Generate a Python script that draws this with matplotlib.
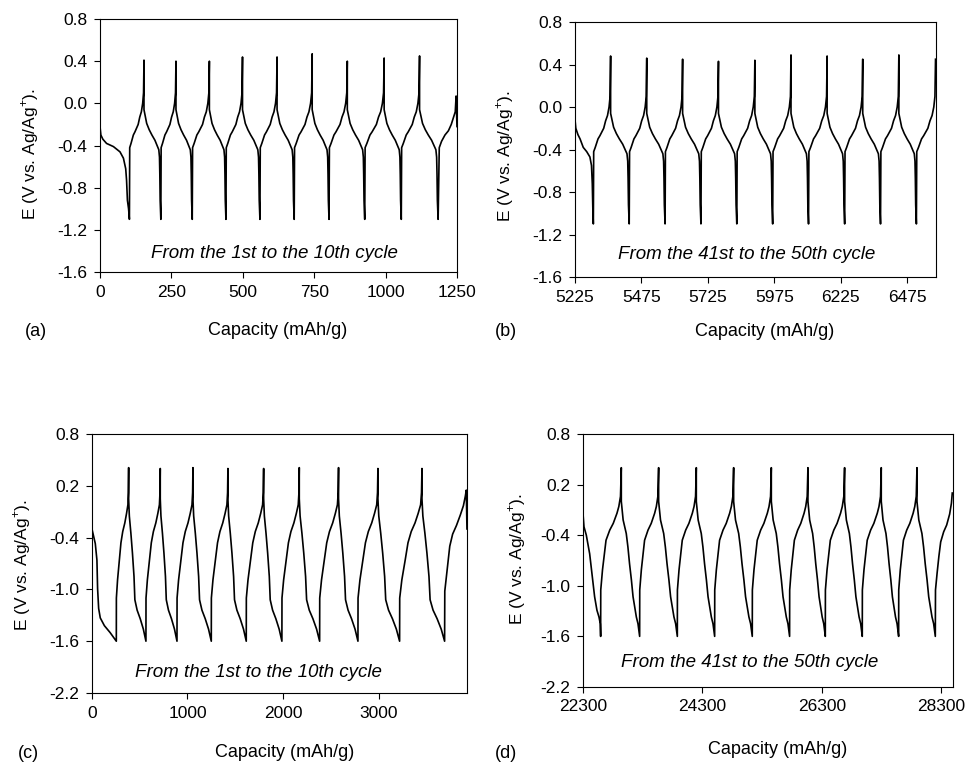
import matplotlib
matplotlib.use("Agg")
import matplotlib.pyplot as plt

plt.rcParams['font.family'] = ['Liberation Sans', 'DejaVu Sans']
plt.rcParams['mathtext.fontset'] = 'custom'
plt.rcParams['mathtext.rm'] = 'Liberation Sans'
plt.rcParams['axes.unicode_minus'] = False

# --- shapes of one half cycle (fraction of the step, potential)
ab_chg_frac = [0, 0.02, 0.11, 0.27, 0.38, 0.6, 0.71, 0.82, 0.91, 0.97]
ab_chg_E = [-1.1, -0.42, -0.38, -0.3, -0.27, -0.2, -0.13, -0.08, 0.0, 0.1]
ab_dis_frac = [0, 0.16, 0.31, 0.47, 0.65, 0.78, 0.88, 0.92, 0.94, 0.96, 1.0]
ab_dis_E = [-0.06, -0.19, -0.25, -0.3, -0.35, -0.4, -0.44, -0.51, -0.67, -0.92, -1.1]

c_chg_frac = [0, 0.005, 0.1, 0.25, 0.375, 0.52, 0.69, 0.83, 0.94, 0.98]
c_chg_E = [-1.6, -1.1, -0.89, -0.66, -0.46, -0.33, -0.23, -0.12, -0.02, 0.12]
c_dis_frac = [0, 0.04, 0.13, 0.22, 0.31, 0.36, 0.49, 0.67, 0.85, 1.0]
c_dis_E = [0.05, -0.15, -0.35, -0.58, -0.85, -1.12, -1.24, -1.34, -1.46, -1.6]

d_chg_frac = [0, 0.005, 0.09, 0.18, 0.26, 0.44, 0.61, 0.79, 0.88, 0.96]
d_chg_E = [-1.6, -1.05, -0.81, -0.62, -0.46, -0.34, -0.26, -0.14, -0.06, 0.06]
d_dis_frac = [0, 0.1, 0.27, 0.36, 0.45, 0.55, 0.64, 0.73, 0.82, 0.91, 1.0]
d_dis_E = [0.0, -0.22, -0.38, -0.54, -0.74, -0.93, -1.13, -1.25, -1.37, -1.45, -1.6]

# --- (a) 1st to 10th cycle, -1.1 V cut-off
a_first_cap = [0, 3, 10, 23, 47, 70, 82, 90, 93, 96, 100, 103]
a_first_E = [-0.22, -0.3, -0.34, -0.38, -0.41, -0.46, -0.52, -0.62, -0.73, -0.92, -1.0, -1.1]
a_min_cap = [103, 213, 323, 441, 560, 680, 802, 927, 1055, 1184]
a_peak_cap = [154, 266, 383, 499, 620, 743, 866, 995, 1119]
a_peak_E = [0.41, 0.40, 0.40, 0.44, 0.44, 0.47, 0.40, 0.43, 0.45]
a_end_cap = [1184, 1188, 1196, 1208, 1220, 1230, 1238, 1244, 1247, 1249, 1250]
a_end_E = [-1.1, -0.42, -0.36, -0.3, -0.26, -0.2, -0.13, -0.08, 0.07, -0.15, -0.22]

# --- (b) 41st to 50th cycle, -1.1 V cut-off
b_first_cap = [5225, 5228, 5236, 5244, 5256, 5269, 5281, 5287, 5290, 5292, 5294]
b_first_E = [-0.12, -0.2, -0.26, -0.3, -0.38, -0.42, -0.47, -0.55, -0.72, -0.95, -1.1]
b_min_cap = [5294, 5429, 5564, 5699, 5834, 5969, 6104, 6240, 6375, 6510]
b_peak_cap = [5359, 5495, 5630, 5765, 5902, 6038, 6174, 6308, 6444, 6582]
b_peak_E = [0.48, 0.46, 0.45, 0.43, 0.44, 0.49, 0.48, 0.45, 0.49, 0.45]
b_end_cap = []
b_end_E = []

# --- (c) 1st to 10th cycle, -1.6 V cut-off
c_first_cap = [0, 10, 35, 52, 59, 70, 87, 130, 190, 255]
c_first_E = [-0.3, -0.35, -0.47, -0.66, -0.99, -1.22, -1.33, -1.42, -1.5, -1.6]
c_min_cap = [255, 565, 890, 1249, 1615, 1988, 2383, 2784, 3220, 3691]
c_peak_cap = [384, 715, 1057, 1423, 1797, 2170, 2581, 2993, 3454]
c_peak_E = [0.41, 0.40, 0.41, 0.40, 0.40, 0.41, 0.41, 0.40, 0.40]
c_end_cap = [3691, 3693, 3720, 3745, 3775, 3815, 3855, 3888, 3908, 3918, 3925]
c_end_E = [-1.6, -1.02, -0.75, -0.5, -0.36, -0.26, -0.14, -0.03, 0.08, 0.15, -0.3]

# --- (d) 41st to 50th cycle, -1.6 V cut-off
d_first_cap = [22300, 22317, 22356, 22412, 22456, 22495, 22534, 22568, 22590, 22596]
d_first_E = [-0.14, -0.3, -0.4, -0.62, -0.89, -1.13, -1.29, -1.37, -1.45, -1.6]
d_min_cap = [22596, 23249, 23880, 24505, 25135, 25760, 26358, 26977, 27586, 28200]
d_peak_cap = [22942, 23567, 24198, 24823, 25454, 26067, 26681, 27295, 27893]
d_peak_E = [0.40, 0.40, 0.40, 0.40, 0.40, 0.40, 0.40, 0.40, 0.40]
d_end_cap = [28200, 28203, 28230, 28260, 28290, 28340, 28390, 28440, 28470, 28484]
d_end_E = [-1.6, -1.05, -0.85, -0.65, -0.48, -0.36, -0.28, -0.15, -0.02, 0.1]


def build(first_cap, first_E, mins, peaks, tops, chg_f, chg_E, dis_f, dis_E, end_cap, end_E):
    cap = list(first_cap)
    E = list(first_E)
    for i, m in enumerate(mins):
        if i >= len(peaks):
            break
        p = peaks[i]
        cap += [m + f * (p - m) for f in chg_f]
        E += chg_E
        cap.append(p)
        E.append(tops[i])
        if i + 1 < len(mins):
            n = mins[i + 1]
            cap += [p + f * (n - p) for f in dis_f]
            E += dis_E
    cap += end_cap
    E += end_E
    return cap, E


panels = [
    dict(rect=[0.1031, 0.6444, 0.368, 0.3307], label='(a)',
         curve=build(a_first_cap, a_first_E, a_min_cap, a_peak_cap, a_peak_E,
                     ab_chg_frac, ab_chg_E, ab_dis_frac, ab_dis_E, a_end_cap, a_end_E),
         xlim=(0, 1250), xticks=[0, 250, 500, 750, 1000, 1250],
         ylim=(-1.6, 0.8), yticks=[-1.6, -1.2, -0.8, -0.4, 0.0, 0.4, 0.8],
         note='From the 1st to the 10th cycle', note_xy=(0.49, 0.075),
         xlab_xy=(0.4986, -0.233), ylab_xy=(-0.196, 0.466), tag_xy=(36, 331)),
    dict(rect=[0.5928, 0.6379, 0.3722, 0.3333], label='(b)',
         curve=build(b_first_cap, b_first_E, b_min_cap, b_peak_cap, b_peak_E,
                     ab_chg_frac, ab_chg_E, ab_dis_frac, ab_dis_E, b_end_cap, b_end_E),
         xlim=(5225, 6584), xticks=[5225, 5475, 5725, 5975, 6225, 6475],
         ylim=(-1.6, 0.8), yticks=[-1.6, -1.2, -0.8, -0.4, 0.0, 0.4, 0.8],
         note='From the 41st to the 50th cycle', note_xy=(0.476, 0.09),
         xlab_xy=(0.526, -0.212), ylab_xy=(-0.194, 0.475), tag_xy=(506, 331)),
    dict(rect=[0.0948, 0.0941, 0.3866, 0.3386], label='(c)',
         curve=build(c_first_cap, c_first_E, c_min_cap, c_peak_cap, c_peak_E,
                     c_chg_frac, c_chg_E, c_dis_frac, c_dis_E, c_end_cap, c_end_E),
         xlim=(0, 3925), xticks=[0, 1000, 2000, 3000],
         ylim=(-2.2, 0.8), yticks=[-2.2, -1.6, -1.0, -0.4, 0.2, 0.8],
         note='From the 1st to the 10th cycle', note_xy=(0.443, 0.081),
         xlab_xy=(0.515, -0.228), ylab_xy=(-0.187, 0.494), tag_xy=(28, 753)),
    dict(rect=[0.6010, 0.1020, 0.3814, 0.3307], label='(d)',
         curve=build(d_first_cap, d_first_E, d_min_cap, d_peak_cap, d_peak_E,
                     d_chg_frac, d_chg_E, d_dis_frac, d_dis_E, d_end_cap, d_end_E),
         xlim=(22300, 28495), xticks=[22300, 24300, 26300, 28300],
         ylim=(-2.2, 0.8), yticks=[-2.2, -1.6, -1.0, -0.4, 0.2, 0.8],
         note='From the 41st to the 50th cycle', note_xy=(0.45, 0.095),
         xlab_xy=(0.527, -0.249), ylab_xy=(-0.179, 0.506), tag_xy=(506, 753)),
]

fig = plt.figure(figsize=(9.7, 7.65), dpi=100)

for p in panels:
    ax = fig.add_axes(p['rect'])
    cap, E = p['curve']
    ax.plot(cap, E, color='black', lw=1.2)
    ax.set_xlim(*p['xlim'])
    ax.set_ylim(*p['ylim'])
    ax.set_xticks(p['xticks'])
    ax.set_xticklabels([str(t) for t in p['xticks']])
    ax.set_yticks(p['yticks'])
    ax.set_yticklabels([f'{t:.1f}' for t in p['yticks']])
    ax.tick_params(direction='out', length=4, width=0.8, labelsize=12.5, pad=5,
                   top=False, right=False)
    for s in ax.spines.values():
        s.set_linewidth(0.8)
    ax.set_xlabel('Capacity (mAh/g)', fontsize=13, va='center')
    ax.xaxis.set_label_coords(*p['xlab_xy'])
    ax.set_ylabel('E (V vs. Ag/Ag$^{+}$).', fontsize=12.5, va='center')
    ax.yaxis.set_label_coords(*p['ylab_xy'])
    ax.text(p['note_xy'][0], p['note_xy'][1], p['note'], transform=ax.transAxes,
            ha='center', va='center', fontsize=13.5, style='italic')
    fig.text(p['tag_xy'][0] / 970, 1 - p['tag_xy'][1] / 765, p['label'],
             ha='center', va='center', fontsize=13)

fig.savefig('out.png', dpi=100)
